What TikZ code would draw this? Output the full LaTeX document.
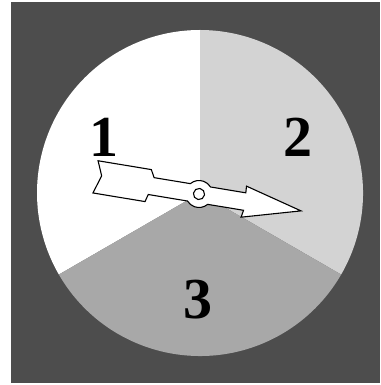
\documentclass[tikz,border=0pt]{standalone}
\usepackage{fontspec}
\setmainfont{Liberation Serif}
\definecolor{SDark}{HTML}{4D4D4D}
\definecolor{SLight}{HTML}{D3D3D3}
\definecolor{SMid}{HTML}{A8A8A8}
\definecolor{SWhite}{HTML}{FFFFFF}
\usepackage{tikz}
\usetikzlibrary{positioning}

\begin{document}
\begin{tikzpicture}[x=1pt,y=1pt,
    numlabel/.style={font=\fontsize{58}{60}\selectfont\bfseries,inner sep=0pt}]
    \useasboundingbox (0,0) rectangle (380,385);
    \fill[SDark] (11,2) rectangle (380,383);
    % three sectors of the wheel
    \coordinate (hub) at (200,192);
    \fill[SWhite] (hub) -- ++(90:163) arc[start angle=90,end angle=210,radius=163] -- cycle;
    \fill[SLight] (hub) -- ++(-30:163) arc[start angle=-30,end angle=90,radius=163] -- cycle;
    \fill[SMid] (hub) -- ++(210:163) arc[start angle=210,end angle=330,radius=163] -- cycle;
    \node[numlabel] (lbl1) at (104,248) {1};
    \node[numlabel] (lbl2) at (298,248) {2};
    \node[numlabel] (lbl3) at (197.5,85) {3};
    % the pointer
    \begin{scope}[shift={(199,191)},rotate=-9.4]
      \filldraw[fill=SWhite,draw=black,line width=1.1pt,line join=miter]
        (-105,16.3) -- (-51,16.3) -- (-47,8.8) -- (139.3:13.5)
        arc[start angle=139.3,end angle=40.7,radius=13.5]
        -- (46,8.8) -- (45.6,15.5) -- (103.4,0) -- (45.3,-16) -- (46.6,-8.8)
        -- (-40.7:13.5) arc[start angle=-40.7,end angle=-139.3,radius=13.5]
        -- (-50,-8.8) -- (-52,-16.3) -- (-104.8,-16.3) -- (-99,2) -- cycle;
      \draw[fill=SWhite,line width=1.1pt] (0,0) circle[radius=5.6];
    \end{scope}
  \end{tikzpicture}
\end{document}
